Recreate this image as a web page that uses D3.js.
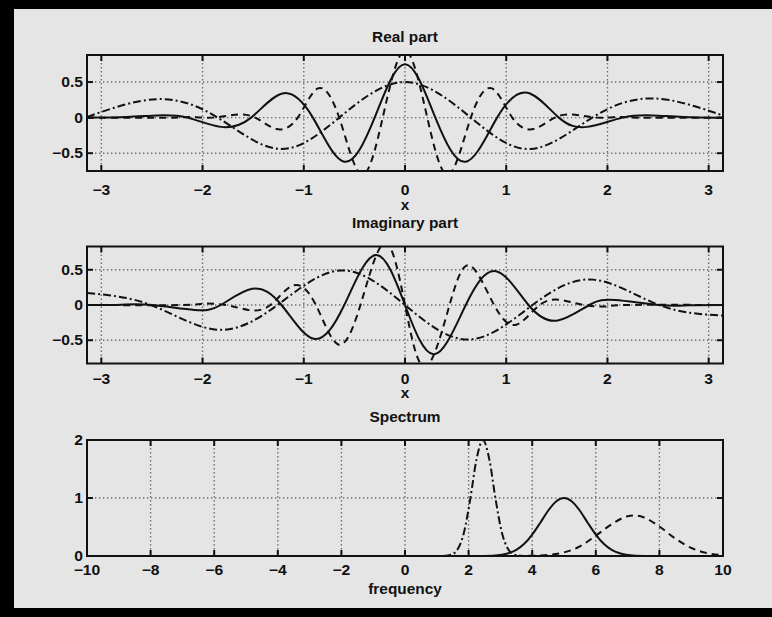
<!DOCTYPE html>
<html>
<head>
<meta charset="utf-8">
<script src="https://cdn.jsdelivr.net/npm/d3@7"></script>
<style>
  html, body { margin: 0; padding: 0; background: #e5e5e5; overflow: hidden; }
  svg { display: block; }
</style>
</head>
<body>
<svg id="fig" width="772" height="617"></svg>
<script>
// ---- Real part (wavelets in x) ----
const realSolidX  = [-3.14, -2.75, -2.45, -2.15, -1.82, -1.52, -1.21, -0.91, -0.6, -0.3, 0, 0.3, 0.6, 0.91, 1.21, 1.52, 1.8, 2.15, 2.45, 2.75, 3.14];
const realSolidY  = [0, 0.01, 0.03, 0, -0.13, 0, 0.34, 0, -0.62, 0, 0.75, 0, -0.62, 0, 0.35, 0, -0.13, 0, 0.03, 0.01, 0];
const realDashX   = [-3.14, -2.3, -2.1, -1.9, -1.68, -1.48, -1.27, -1.06, -0.86, -0.65, -0.43, -0.22, 0, 0.22, 0.43, 0.65, 0.86, 1.06, 1.27, 1.48, 1.68, 1.9, 2.1, 2.3, 3.14];
const realDashY   = [0, 0, 0.01, 0, 0.04, 0, -0.16, 0, 0.41, 0, -0.8, 0, 0.94, 0, -0.8, 0, 0.41, 0, -0.16, 0, 0.04, 0, 0.01, 0, 0];
const realDotX    = [-3.14, -2.45, -1.85, -1.24, -0.65, 0, 0.65, 1.24, 1.85, 2.45, 3.14];
const realDotY    = [0.01, 0.26, 0, -0.44, 0, 0.5, 0, -0.44, 0, 0.27, 0.03];

// ---- Imaginary part ----
const imagSolidX  = [-3.14, -2.8, -2.5, -2.08, -1.82, -1.51, -1.22, -0.9, -0.6, -0.29, 0, 0.29, 0.6, 0.9, 1.22, 1.51, 1.82, 2.08, 2.5, 2.8, 3.14];
const imagSolidY  = [0, 0.005, 0, -0.07, 0, 0.23, 0, -0.48, 0, 0.71, 0, -0.7, 0, 0.48, 0, -0.22, 0, 0.07, 0, -0.005, 0];
const imagDashX   = [-3.14, -2.2, -1.99, -1.77, -1.55, -1.33, -1.1, -0.88, -0.66, -0.44, -0.2, 0, 0.2, 0.44, 0.64, 0.88, 1.1, 1.33, 1.55, 1.77, 1.99, 2.2, 3.14];
const imagDashY   = [0, 0, 0.02, 0, -0.07, 0, 0.28, 0, -0.56, 0, 0.88, 0, -0.88, 0, 0.56, 0, -0.28, 0, 0.07, 0, -0.02, 0, 0];
const imagDotX    = [-3.14, -2.51, -1.86, -1.26, -0.63, 0, 0.63, 1.26, 1.86, 2.51, 3.14];
const imagDotY    = [0.17, 0, -0.35, 0, 0.49, 0, -0.49, 0, 0.36, 0, -0.15];

// ---- Spectrum (frequency domain) ----
const specSolidX  = [-10, 2.5, 3, 3.25, 3.5, 3.75, 4, 4.25, 4.5, 4.75, 5, 5.25, 5.5, 5.75, 6, 6.25, 6.5, 6.75, 7, 7.5, 10];
const specSolidY  = [0, 0.002, 0.018, 0.047, 0.105, 0.21, 0.37, 0.57, 0.78, 0.94, 1, 0.94, 0.78, 0.57, 0.37, 0.21, 0.105, 0.047, 0.018, 0.002, 0];
const specDashX   = [3.5, 4, 4.5, 5, 5.5, 6, 6.5, 7, 7.2, 7.5, 8, 8.5, 9, 9.5, 10];
const specDashY   = [0.001, 0.004, 0.018, 0.062, 0.165, 0.35, 0.548, 0.686, 0.7, 0.669, 0.508, 0.301, 0.139, 0.05, 0.014];
const specDotX    = [1.2, 1.45, 1.65, 1.85, 2.05, 2.25, 2.45, 2.65, 2.85, 3.05, 3.25, 3.45, 3.7];
const specDotY    = [0.002, 0.022, 0.112, 0.396, 0.974, 1.67, 2, 1.67, 0.974, 0.396, 0.112, 0.022, 0.002];

// ---- Axis ticks and labels ----
const timeTicks   = [-3, -2, -1, 0, 1, 2, 3];
const ampTicks    = [-0.5, 0, 0.5];
const freqTicks   = [-10, -8, -6, -4, -2, 0, 2, 4, 6, 8, 10];
const specTicks   = [0, 1, 2];
const titles      = ["Real part", "Imaginary part", "Spectrum"];
const xLabels     = ["x", "x", "frequency"];

const zip = (xs, ys) => xs.map((x, i) => [x, ys[i]]);

const styles = {
  solid:   null,
  dashed:  "7,5",
  dashdot: "8,3,2,3"
};

const panels = [
  {
    title: titles[0], xlabel: xLabels[0],
    top: 55, bottom: 171, xDomain: [-Math.PI, Math.PI], yDomain: [-0.75, 0.88],
    xTicks: timeTicks, yTicks: ampTicks, yFmt: d3.format("~g"),
    titleY: 37, tickY: 190, labelY: 205,
    series: [
      { pts: zip(realDotX, realDotY), style: "dashdot" },
      { pts: zip(realDashX, realDashY), style: "dashed" },
      { pts: zip(realSolidX, realSolidY), style: "solid" }
    ]
  },
  {
    title: titles[1], xlabel: xLabels[1],
    top: 246.5, bottom: 363.5, xDomain: [-Math.PI, Math.PI], yDomain: [-0.83, 0.83],
    xTicks: timeTicks, yTicks: ampTicks, yFmt: d3.format("~g"),
    titleY: 223, tickY: 379, labelY: 393,
    series: [
      { pts: zip(imagDotX, imagDotY), style: "dashdot" },
      { pts: zip(imagDashX, imagDashY), style: "dashed" },
      { pts: zip(imagSolidX, imagSolidY), style: "solid" }
    ]
  },
  {
    title: titles[2], xlabel: xLabels[2],
    top: 440, bottom: 556, xDomain: [-10, 10], yDomain: [0, 2],
    xTicks: freqTicks, yTicks: specTicks, yFmt: d3.format("d"),
    titleY: 417, tickY: 570, labelY: 589,
    series: [
      { pts: zip(specDotX, specDotY), style: "dashdot", curve: d3.curveMonotoneX },
      { pts: zip(specDashX, specDashY), style: "dashed", curve: d3.curveMonotoneX },
      { pts: zip(specSolidX, specSolidY), style: "solid", curve: d3.curveMonotoneX }
    ]
  }
];

const left = 87, right = 723;
const svg = d3.select("#fig");
const font = "'Liberation Sans', Arial, Helvetica, sans-serif";

// page background and dark frame
svg.append("rect").attr("width", 772).attr("height", 617).attr("fill", "#e5e5e5");
svg.append("rect").attr("x", 0).attr("y", 0).attr("width", 772).attr("height", 9).attr("fill", "#000");
svg.append("rect").attr("x", 0).attr("y", 0).attr("width", 14).attr("height", 617).attr("fill", "#000");
svg.append("rect").attr("x", 0).attr("y", 608).attr("width", 772).attr("height", 9).attr("fill", "#000");

// text slightly widened horizontally, like the printed Helvetica
function label(g, x, y, text, anchor, size, stretch) {
  return g.append("text")
    .attr("transform", `translate(${x},${y}) scale(${stretch},1)`)
    .attr("dy", "0.35em")
    .attr("text-anchor", anchor)
    .attr("font-family", font)
    .attr("font-weight", "bold")
    .attr("font-size", size)
    .attr("fill", "#111")
    .text(text);
}

panels.forEach((p, idx) => {
  const x = d3.scaleLinear().domain(p.xDomain).range([left, right]);
  const y = d3.scaleLinear().domain(p.yDomain).range([p.bottom, p.top]);
  const g = svg.append("g");

  const clipId = "clip" + idx;
  svg.append("clipPath").attr("id", clipId)
    .append("rect").attr("x", left).attr("y", p.top)
    .attr("width", right - left).attr("height", p.bottom - p.top);

  // dotted grid
  const grid = g.append("g").attr("stroke", "#6e6e6e").attr("stroke-width", 1.4)
    .attr("stroke-dasharray", "1.4,2.6");
  p.xTicks.forEach(t => {
    grid.append("line").attr("x1", x(t)).attr("x2", x(t)).attr("y1", p.top).attr("y2", p.bottom);
  });
  p.yTicks.forEach(t => {
    grid.append("line").attr("x1", left).attr("x2", right).attr("y1", y(t)).attr("y2", y(t));
  });

  // curves
  const lines = g.append("g").attr("clip-path", `url(#${clipId})`);
  p.series.forEach(s => {
    const line = d3.line().x(d => x(d[0])).y(d => y(d[1])).curve(s.curve || d3.curveNatural);
    lines.append("path")
      .attr("d", line(s.pts))
      .attr("fill", "none")
      .attr("stroke", "#111")
      .attr("stroke-width", 2)
      .attr("stroke-dasharray", styles[s.style]);
  });

  // box
  g.append("rect").attr("x", left).attr("y", p.top)
    .attr("width", right - left).attr("height", p.bottom - p.top)
    .attr("fill", "none").attr("stroke", "#111").attr("stroke-width", 2);

  // inward ticks on all four sides
  const tk = 6;
  const ticks = g.append("g").attr("stroke", "#111").attr("stroke-width", 2);
  p.xTicks.forEach(t => {
    ticks.append("line").attr("x1", x(t)).attr("x2", x(t)).attr("y1", p.bottom).attr("y2", p.bottom - tk);
    ticks.append("line").attr("x1", x(t)).attr("x2", x(t)).attr("y1", p.top).attr("y2", p.top + tk);
  });
  p.yTicks.forEach(t => {
    ticks.append("line").attr("x1", left).attr("x2", left + tk).attr("y1", y(t)).attr("y2", y(t));
    ticks.append("line").attr("x1", right).attr("x2", right - tk).attr("y1", y(t)).attr("y2", y(t));
  });

  // tick labels
  const fmt = d3.format("~g");
  p.xTicks.forEach(t => label(g, x(t), p.tickY, fmt(t), "middle", 14, 1.12));
  p.yTicks.forEach(t => label(g, left - 4, y(t), p.yFmt(t), "end", 14, 1.12));

  // title and axis label
  label(g, (left + right) / 2, p.titleY, p.title, "middle", 14, 1.1);
  label(g, (left + right) / 2, p.labelY, p.xlabel, "middle", 14, 1.1);
});
</script>
</body>
</html>
